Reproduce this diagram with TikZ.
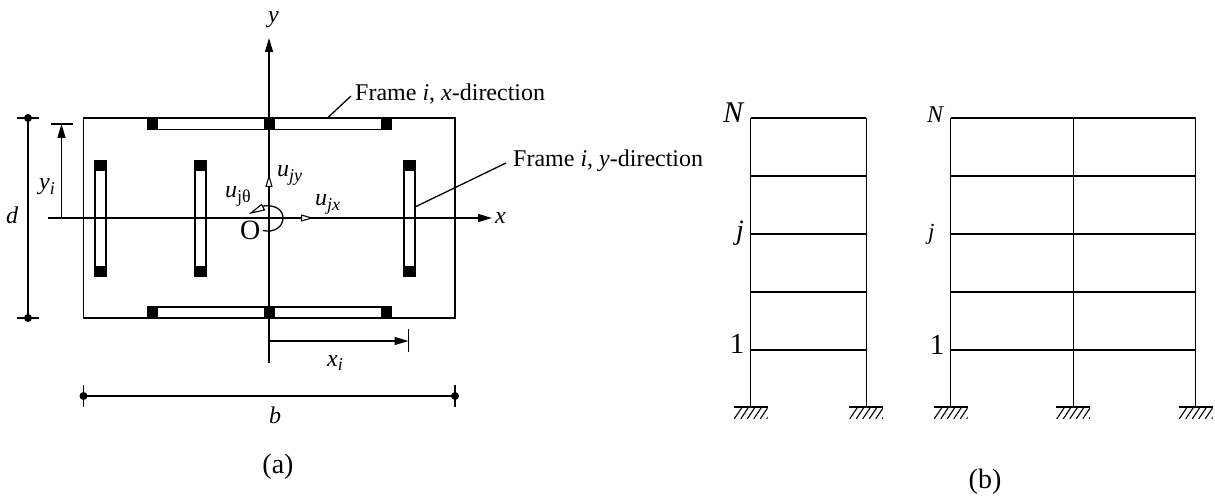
\documentclass[tikz,border=0pt]{standalone}
\usepackage{fontspec}
\setmainfont{Liberation Serif}
\usetikzlibrary{arrows.meta}
\tikzset{
  x=1pt,y=-1pt,
  lbl/.style={inner sep=0pt,font=\fontsize{24}{24}\selectfont,anchor=base},
  lblw/.style={lbl,anchor=base west},
  ln/.style={line width=1.3pt,draw=black},
  solidtip/.style={-{Triangle[length=14pt,width=8pt]}},
  opentip/.style={-{Triangle[open,fill=white,length=13pt,width=7pt,line width=1.1pt]}},
  column/.style={draw=black,line width=1.3pt,fill=white},
  dotmark/.style={circle,fill=black,inner sep=0pt,minimum size=8pt},
}
\newcommand{\subs}[1]{\raisebox{-4.5pt}{\fontsize{18}{18}\selectfont #1}}
\newcommand{\hbeam}[1]{%
  \draw[column] (147.5,#1) rectangle (391.5,#1+11);
  \foreach \xx in {147.5,264,381} \fill[black] (\xx,#1) rectangle (\xx+10.5,#1+11);}
\newcommand{\vbeam}[1]{%
  \draw[column] (#1,160.5) rectangle (#1+11,276);
  \fill[black] (#1,160.5) rectangle (#1+11,171);
  \fill[black] (#1,265.5) rectangle (#1+11,276);}
\newcommand{\support}[1]{%
  \draw[line width=1.6pt] (#1-17,407) -- (#1+17,407);
  \begin{scope}
  \clip (#1-17,407) rectangle (#1+17,418.5);
  \foreach \k in {0,1,2,3,4,5} \draw[line width=1.1pt] (#1-16.5+\k*6.5,419) -- (#1-16.5+\k*6.5+8,407);
  \end{scope}}
\begin{document}
\begin{tikzpicture}
\useasboundingbox (0,0) rectangle (1215,497);
% plate
\draw[ln] (83.5,118) rectangle (455,318);
\hbeam{118.5}
\hbeam{307}
\vbeam{95}
\vbeam{195}
\vbeam{404}
% axes
\coordinate (ytail) at (269,363); \coordinate (ytip) at (269,38);
\coordinate (xtail) at (48,218); \coordinate (xtip) at (492,218);
\draw[ln,solidtip] (ytail) -- (ytip);
\draw[ln,solidtip] (xtail) -- (xtip);
\node[lbl] (ylab) at (273.5,22.5) {\textit{y}};
\node[lblw] (xlab) at (495,223) {\textit{x}};
% local dof
\coordinate (o) at (269,218);
\draw[line width=1.3pt,opentip] (o) -- (269,174);
\draw[line width=1.3pt,opentip] (o) -- (314,218);
\draw[line width=1.3pt] (263,230.5) .. controls (274,233) and (283,227) .. (283,218) .. controls (283,209) and (274,204.5) .. (263,206);
\draw[line width=1.1pt,fill=white] (251,213) -- (261.5,204.5) -- (264.5,210) -- cycle;
\node[lblw] (ujy) at (277,177) {\textit{u\subs{jy}}};
\node[lblw] (ujx) at (315,206) {\textit{u\subs{jx}}};
\node[lblw] (ujt) at (225,198) {\textit{u}\subs{jθ}};
\node[lblw,font=\fontsize{28}{28}\selectfont] (O) at (240,240) {O};
% d
\coordinate (d1) at (28,118); \coordinate (d2) at (28,318);
\draw[ln] (d1) -- (d2);
\draw[ln] (17,118) -- (39,118);
\draw[ln] (17,318) -- (39,318);
\node[dotmark] at (d1) {}; \node[dotmark] at (d2) {};
\node[lblw] (dl) at (6,223) {\textit{d}};
% yi
\draw[ln] (51,124) -- (72.5,124);
\draw[ln,solidtip] (61.5,218) -- (61.5,124);
\node[lblw] (yi) at (39,190) {\textit{y\subs{i}}};
% xi
\draw[ln] (408.5,329) -- (408.5,351.5);
\draw[ln,solidtip] (269,341) -- (408.5,341);
\node[lblw] (xi) at (327,366) {\textit{x\subs{i}}};
% b
\coordinate (b1) at (83.5,396); \coordinate (b2) at (455,396);
\draw[ln] (b1) -- (b2);
\draw[ln] (83.5,385) -- (83.5,407);
\draw[ln] (455,385) -- (455,407);
\node[dotmark] at (b1) {}; \node[dotmark] at (b2) {};
\node[lbl] (bl) at (275,423) {\textit{b}};
\node[lbl,font=\fontsize{28}{28}\selectfont] (a) at (278,473) {(a)};
% leaders
\node[lblw] (fx) at (355,100.5) {Frame \textit{i}, \textit{x}-direction};
\node[lblw] (fy) at (513,167) {Frame \textit{i}, \textit{y}-direction};
\coordinate (fxa) at (328,117.5); \coordinate (fxb) at (351,96);
\coordinate (fya) at (415,207); \coordinate (fyb) at (506,163);
\draw[ln] (fxa) -- (fxb);
\draw[ln] (fya) -- (fyb);
% frames (b)
\foreach \yy in {118,176,234,292,350} {
  \draw[ln] (750.7,\yy) -- (866.2,\yy);
  \draw[ln] (950.7,\yy) -- (1195.7,\yy);
}
\foreach \xx in {750.7,866.2,950.7,1073.2,1195.7} {
  \draw[ln] (\xx,118) -- (\xx,407);
  \support{\xx}
}
\node[lblw,font=\fontsize{30}{30}\selectfont\itshape] (N1) at (723,123) {N};
\node[lblw,font=\fontsize{28}{28}\selectfont\itshape] (j1) at (736,239) {j};
\node[lbl,font=\fontsize{29}{29}\selectfont] (o1) at (737,353.5) {1};
\node[lblw,font=\fontsize{24}{24}\selectfont\itshape] (N2) at (927,123) {N};
\node[lblw,font=\fontsize{23}{23}\selectfont\itshape] (j2) at (928,239) {j};
\node[lbl,font=\fontsize{29}{29}\selectfont] (o2) at (937,354) {1};
\node[lbl,font=\fontsize{28}{28}\selectfont] (bb) at (985,488) {(b)};
\end{tikzpicture}
\end{document}
